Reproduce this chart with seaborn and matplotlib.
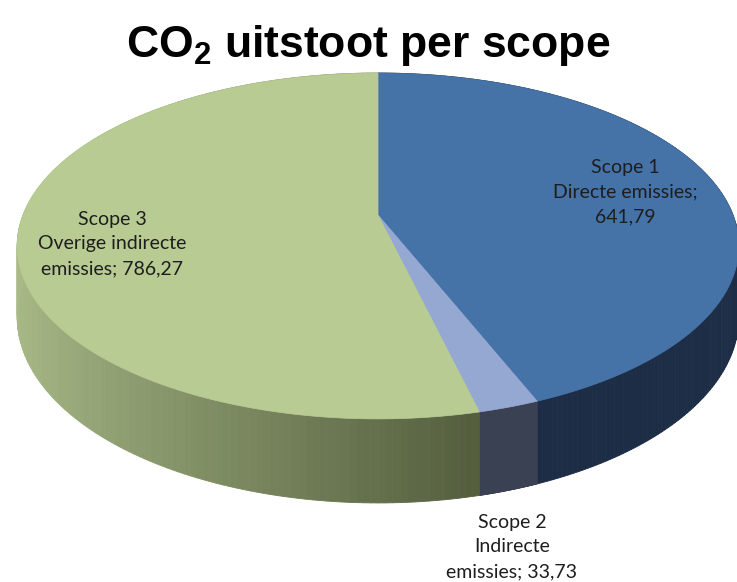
import numpy as np
import seaborn as sns
import matplotlib
matplotlib.use("Agg")
import matplotlib.pyplot as plt
from matplotlib.patches import Polygon

# data
categories = ["Scope 1", "Scope 2", "Scope 3"]
values = [641.79, 33.73, 786.27]
label_texts = [
    "Scope 1\nDirecte emissies;\n641,79",
    "Scope 2\nIndirecte\nemissies; 33,73",
    "Scope 3\nOverige indirecte\nemissies; 786,27",
]
top_colors = ["#4572A7", "#95A8D1", "#B7CB93"]
side_light = ["#1C2D45", "#454C60", "#A9BA88"]
side_dark = ["#1C2D45", "#3A4152", "#525C3C"]

# layout (pixel space of the 737x582 picture)
CX, CY = 378, 215          # pie centre
RX, RY = 355, 167.4        # radii of the top face
P = 0.179                  # perspective strength
DEPTH = 69                 # thickness of the disc
label_pos = [(625, 192), (512, 547), (112, 244)]

sns.set_theme(style="white")
plt.rcParams["font.family"] = ["Lato", "DejaVu Sans"]
plt.rcParams["mathtext.fontset"] = "custom"
plt.rcParams["mathtext.rm"] = "Liberation Sans:bold"


def project(theta, drop=0.0):
    # theta: clockwise from 12 o'clock
    u, v = np.sin(theta), np.cos(theta)
    s = 1.0 / (1.0 + P * v)
    return CX + RX * u * s, CY - RY * v * s + drop * s


fig = plt.figure(figsize=(7.37, 5.82), dpi=100)
ax = fig.add_axes([0, 0, 1, 1])
ax.set_xlim(0, 737)
ax.set_ylim(582, 0)
ax.axis("off")

fracs = np.array(values) / np.sum(values)
edges = np.concatenate([[0], np.cumsum(fracs)]) * 2 * np.pi

# sides of the disc, with shading that darkens towards the right
for i in range(len(values)):
    th = np.linspace(edges[i], edges[i + 1], 200)
    pal = sns.blend_palette([side_light[i], side_dark[i]], 64)
    for a, b in zip(th[:-1], th[1:]):
        xa, ya = project(a)
        xb, yb = project(b)
        xa2, ya2 = project(a, DEPTH)
        xb2, yb2 = project(b, DEPTH)
        f = np.clip((np.sin((a + b) / 2) + 1) / 1.25, 0, 1)
        c = pal[int(f * 63)]
        ax.add_patch(Polygon([(xa, ya), (xb, yb), (xb2, yb2), (xa2, ya2)],
                             closed=True, facecolor=c, edgecolor=c, lw=0.6, zorder=1))

# top faces
for i in range(len(values)):
    th = np.linspace(edges[i], edges[i + 1], 300)
    xs, ys = project(th)
    pts = [(CX, CY)] + list(zip(xs, ys))
    ax.add_patch(Polygon(pts, closed=True, facecolor=top_colors[i],
                         edgecolor=top_colors[i], lw=0.5, zorder=2))

# data labels
for txt, (x, y) in zip(label_texts, label_pos):
    ax.text(x, y, txt, ha="center", va="center", fontsize=14,
            color="#1E1E1E", linespacing=1.55, zorder=3)

ax.text(368, 57, r"CO$_\mathrm{2}$ uitstoot per scope", ha="center", va="baseline",
        fontsize=32, fontweight="bold", color="black",
        family=["Liberation Sans", "DejaVu Sans"])

fig.savefig("out.png", dpi=100)
